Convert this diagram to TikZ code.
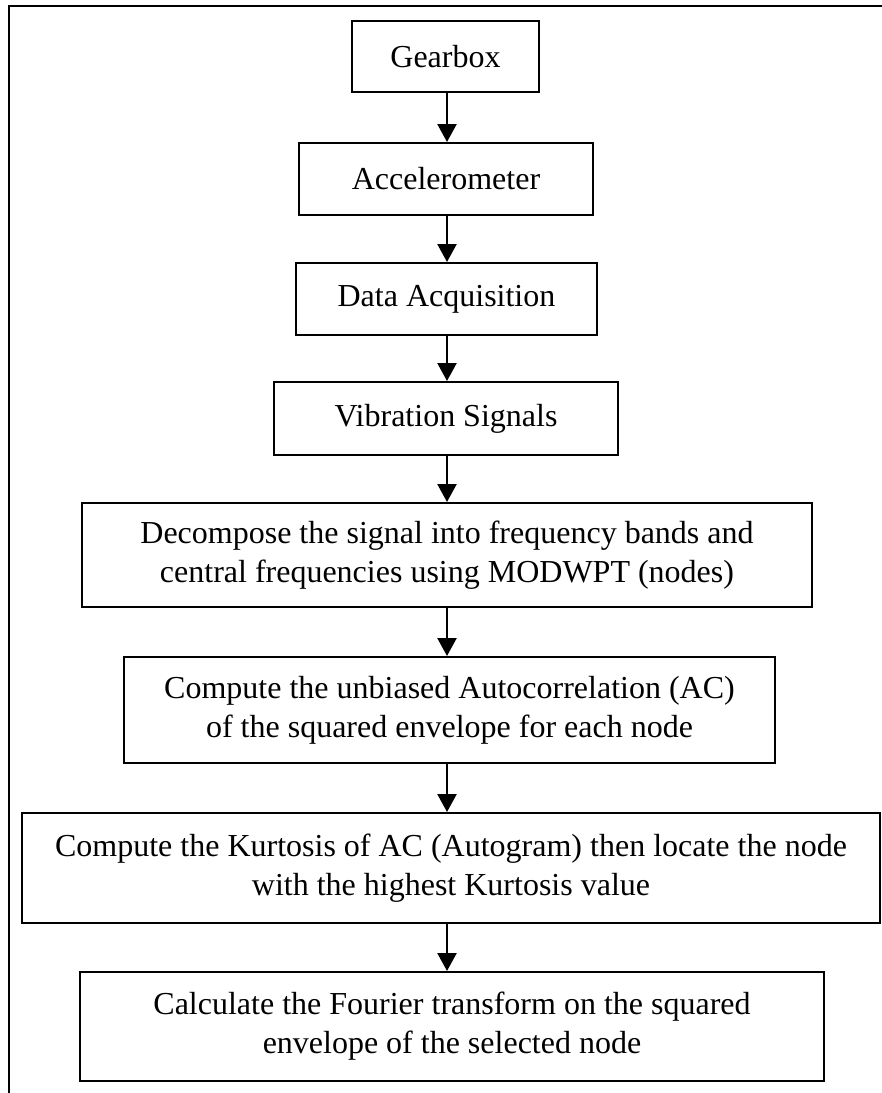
\documentclass[tikz,border=0pt]{standalone}
\usepackage{fontspec}
\setmainfont{Liberation Serif}
\usetikzlibrary{arrows.meta}
\begin{document}
\begin{tikzpicture}[x=0.5pt,y=-0.5pt,
  box/.style={draw, line width=1pt, align=center, inner sep=0pt,
    font=\fontsize{16}{19.5}\selectfont},
  flow/.style={-{Triangle[width=9.5pt,length=9pt]}, line width=1.2pt},
  frameline/.style={line width=1.4pt}]
\useasboundingbox (0,0) rectangle (882,1093);
\fill[white] (0,0) rectangle (882,1093);
% open frame: top and left edges
\draw[frameline] (9,1093) -- (9,6) -- (882,6);

% column of the connectors
\coordinate (col) at (447,0);

% process steps
\node[box, minimum width=93.5pt, minimum height=35.5pt] (gear) at (445.5,56.5) {Gearbox};
\node[box, minimum width=147pt, minimum height=36pt] (accel) at (446,179) {Accelerometer};
\node[box, minimum width=150.5pt, minimum height=36pt] (daq) at (446.5,299) {Data Acquisition};
\node[box, minimum width=172pt, minimum height=36.5pt] (vib) at (446,418.5) {Vibration Signals};
\node[box, minimum width=365pt, minimum height=52pt] (decomp) at (447,555)
  {Decompose the signal into frequency bands and\\central frequencies using MODWPT (nodes)};
\node[box, minimum width=325.5pt, minimum height=53pt] (autoc) at (449.5,710)
  {Compute the unbiased Autocorrelation (AC)\\of the squared envelope for each node};
\node[box, minimum width=429pt, minimum height=55pt] (kurt) at (451,868)
  {Compute the Kurtosis of AC (Autogram) then locate the node\\with the highest Kurtosis value};
\node[box, minimum width=372pt, minimum height=54.5pt] (fourier) at (452,1026.5)
  {Calculate the Fourier transform on the squared\\envelope of the selected node};

% connectors
\draw[flow] (gear.south -| col) -- (accel.north -| col);
\draw[flow] (accel.south -| col) -- (daq.north -| col);
\draw[flow] (daq.south -| col) -- (vib.north -| col);
\draw[flow] (vib.south -| col) -- (decomp.north -| col);
\draw[flow] (decomp.south -| col) -- (autoc.north -| col);
\draw[flow] (autoc.south -| col) -- (kurt.north -| col);
\draw[flow] (kurt.south -| col) -- (fourier.north -| col);
\end{tikzpicture}
\end{document}
